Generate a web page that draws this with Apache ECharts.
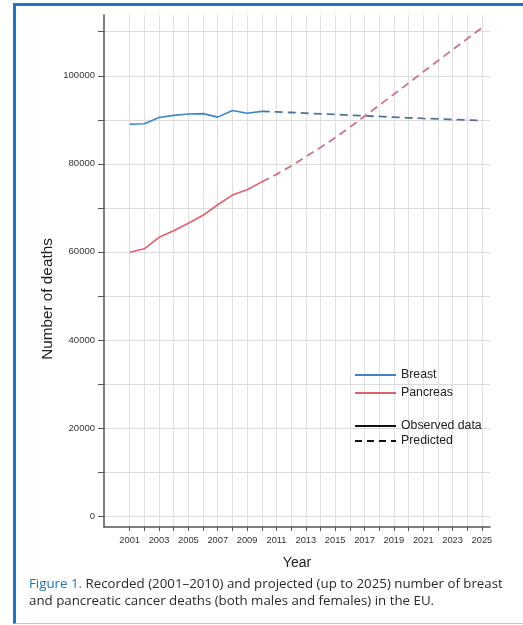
<!DOCTYPE html>
<html>
<head>
<meta charset="utf-8">
<script src="https://cdn.jsdelivr.net/npm/echarts@6/dist/echarts.min.js"></script>
<style>
  html, body { margin: 0; padding: 0; background: #fff; }
  #frame { position: absolute; left: 13px; top: 3px; width: 520px; height: 617px;
           border-left: 3px solid #1a74c9; border-top: 3px solid #1a74c9; border-bottom: 1px solid #a9cdea; }
  #chart { position: absolute; left: 0; top: 0; width: 523px; height: 625px; }
</style>
</head>
<body>
<div id="frame"></div>
<div id="chart"></div>
<script>
// Observed (2001-2010)
const observedYears = [2001, 2002, 2003, 2004, 2005, 2006, 2007, 2008, 2009, 2010];
const breastObserved = [89000, 89100, 90500, 91000, 91300, 91400, 90600, 92100, 91500, 91900];
const pancreasObserved = [59900, 60700, 63300, 64800, 66500, 68300, 70700, 72900, 74100, 75900];

// Predicted (2010-2025)
const predictedYears = [2010, 2011, 2012, 2013, 2014, 2015, 2016, 2017, 2018, 2019, 2020, 2021, 2022, 2023, 2024, 2025];
const breastPredicted = [91900, 91800, 91650, 91500, 91350, 91200, 91050, 90900, 90750, 90600, 90450, 90300, 90200, 90050, 89950, 89850];
const pancreasPredicted = [75900, 77600, 79500, 81600, 83700, 85900, 88300, 90800, 93300, 95800, 98300, 100900, 103400, 105900, 108400, 110900];

// Axis ticks / labels
const xTickYears = [2001, 2002, 2003, 2004, 2005, 2006, 2007, 2008, 2009, 2010, 2011, 2012, 2013, 2014, 2015, 2016, 2017, 2018, 2019, 2020, 2021, 2022, 2023, 2024, 2025];
const xLabelYears = [2001, 2003, 2005, 2007, 2009, 2011, 2013, 2015, 2017, 2019, 2021, 2023, 2025];
const yTickValues = [0, 10000, 20000, 30000, 40000, 50000, 60000, 70000, 80000, 90000, 100000, 110000];
const yLabelValues = [0, 20000, 40000, 60000, 80000, 100000];

const pairs = (xs, ys) => xs.map((x, i) => [x, ys[i]]);

const colBreast = '#3f85c8', colBreastPred = '#4f7399';
const colPanc = '#e2606c', colPancPred = '#cf7482';
const font = 'Liberation Sans, Arial, sans-serif';
const capFont = 'Open Sans, sans-serif';

const chart = echarts.init(document.getElementById('chart'), null, { renderer: 'canvas' });
chart.setOption({
  animation: false,
  textStyle: { fontFamily: font },
  title: {
    left: 24, top: 571,
    text: '{b|Figure 1.} Recorded (2001–2010) and projected (up to 2025) number of breast\nand pancreatic cancer deaths (both males and females) in the EU.',
    textStyle: {
      fontFamily: capFont, fontSize: 13.3, fontWeight: 'normal', color: '#2a2a2a', lineHeight: 17,
      rich: { b: { color: '#1b74bd', fontFamily: capFont, fontSize: 13.3, lineHeight: 17 } }
    }
  },
  legend: [
    {
      orient: 'vertical', left: 349, top: 364, itemWidth: 41, itemHeight: 10, itemGap: 6,
      data: ['Breast', 'Pancreas'],
      itemStyle: { opacity: 0 },
      textStyle: { fontSize: 12.3, color: '#222' },
      selectedMode: false
    },
    {
      orient: 'vertical', left: 349, top: 415, itemWidth: 41, itemHeight: 10, itemGap: 3,
      data: ['Observed data', 'Predicted'],
      itemStyle: { opacity: 0 },
      textStyle: { fontSize: 12.3, color: '#222' },
      selectedMode: false
    }
  ],
  grid: { left: 104, right: 33, top: 15, bottom: 98, containLabel: false },
  xAxis: {
    type: 'value', min: 1999.25, max: 2025.55,
    name: 'Year', nameLocation: 'middle', nameGap: 29,
    nameTextStyle: { fontSize: 14, color: '#222' },
    axisLine: { show: true, onZero: false, lineStyle: { color: '#555', width: 1.5 } },
    axisTick: { show: true, length: 4, customValues: xTickYears, lineStyle: { color: '#555' } },
    axisLabel: { customValues: xLabelYears, fontSize: 9.3, color: '#333', margin: 9, formatter: v => String(v) },
    splitLine: { show: true, lineStyle: { color: '#e0e0e0', width: 1 } }
  },
  yAxis: {
    type: 'value', min: -2500, max: 113800,
    name: 'Number of deaths', nameLocation: 'middle', nameGap: 49, nameRotate: 90,
    nameMoveOverlap: false,
    nameTextStyle: { fontSize: 15.3, color: '#222', padding: [0, 56, 0, 0] },
    axisLine: { show: true, onZero: false, lineStyle: { color: '#555', width: 1.5 } },
    axisTick: { show: true, length: 6, customValues: yTickValues, lineStyle: { color: '#555' } },
    axisLabel: { customValues: yLabelValues, fontSize: 9.5, color: '#333', margin: 9, formatter: v => String(v) },
    splitLine: { show: true, lineStyle: { color: '#dcdcdc', width: 1 } }
  },
  series: [
    { name: 'Breast', type: 'line', symbol: 'none', data: pairs(observedYears, breastObserved),
      lineStyle: { color: colBreast, width: 1.6 }, itemStyle: { color: colBreast }, z: 3 },
    { name: 'Pancreas', type: 'line', symbol: 'none', data: pairs(observedYears, pancreasObserved),
      lineStyle: { color: colPanc, width: 1.6 }, itemStyle: { color: colPanc }, z: 3 },
    { name: 'Breast predicted', type: 'line', symbol: 'none', data: pairs(predictedYears, breastPredicted),
      lineStyle: { color: colBreastPred, width: 1.8, type: [8, 5] }, itemStyle: { color: colBreastPred }, z: 2 },
    { name: 'Pancreas predicted', type: 'line', symbol: 'none', data: pairs(predictedYears, pancreasPredicted),
      lineStyle: { color: colPancPred, width: 1.8, type: [8, 5] }, itemStyle: { color: colPancPred }, z: 2 },
    { name: 'Observed data', type: 'line', symbol: 'none', data: [],
      lineStyle: { color: '#111', width: 2 }, itemStyle: { color: '#111' } },
    { name: 'Predicted', type: 'line', symbol: 'none', data: [],
      lineStyle: { color: '#111', width: 1.8, type: [7, 5] }, itemStyle: { color: '#111' } }
  ]
});
</script>
</body>
</html>
